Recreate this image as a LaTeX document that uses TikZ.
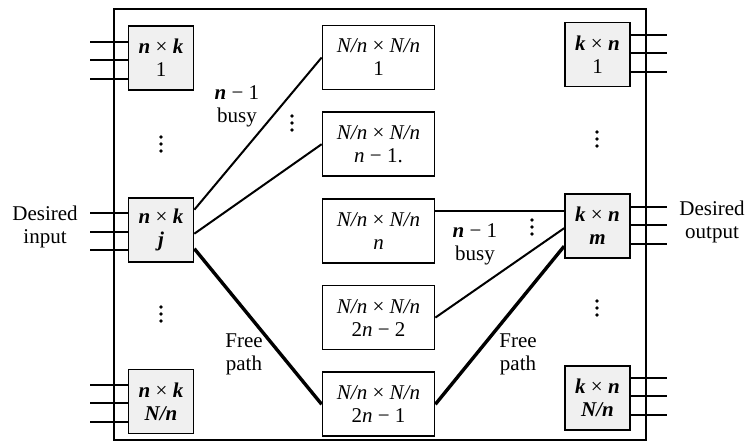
\documentclass[tikz,border=0pt]{standalone}
\usepackage{fontspec}
\setmainfont{Liberation Serif}
\usetikzlibrary{positioning}
\tikzset{
  swbox/.style={rectangle,draw,line width=0.85pt,fill=gray!12,align=center,inner sep=1pt,minimum width=32.5pt,minimum height=32pt},
  midbox/.style={rectangle,draw,line width=0.85pt,fill=white,align=center,inner sep=1pt,minimum width=56pt,minimum height=32pt},
  wire/.style={line width=1pt},
  busy/.style={line width=1pt},
  free/.style={line width=1.7pt},
  frame/.style={line width=0.7pt},
  lbl/.style={align=center,inner sep=0pt}
}
\newcommand{\bi}[1]{\textbf{\textit{#1}}}

\begin{document}
\begin{tikzpicture}[x=0.5pt,y=-0.5pt,font=\fontsize{10.5}{11.5}\selectfont,node distance=10.5pt]
\useasboundingbox (0,0) rectangle (750,445);
\draw[frame] (114,9) rectangle (646,440);
% input stage
\node[swbox] (l1) at (161,58) {\bi{n} × \bi{k}\\1};
\node[swbox, below=53pt of l1] (lj) {\bi{n} × \bi{k}\\\bi{j}};
\node[swbox, below=53pt of lj] (ln) {\bi{n} × \bi{k}\\\bi{N/n}};
% middle stage
\node[midbox] (m1) at (378.5,57.5) {\textit{N/n} × \textit{N/n}\\1};
\node[midbox, below=of m1] (m2) {\textit{N/n} × \textit{N/n}\\\textit{n} − 1.};
\node[midbox, below=of m2] (m3) {\textit{N/n} × \textit{N/n}\\\textit{n}};
\node[midbox, below=of m3] (m4) {\textit{N/n} × \textit{N/n}\\2\textit{n} − 2};
\node[midbox, below=of m4] (m5) {\textit{N/n} × \textit{N/n}\\2\textit{n} − 1};
% output stage
\node[swbox] (r1) at (597.5,54.5) {\bi{k} × \bi{n}\\1};
\node[swbox, below=53pt of r1] (rm) {\bi{k} × \bi{n}\\\bi{m}};
\node[swbox, below=53pt of rm] (rn) {\bi{k} × \bi{n}\\\bi{N/n}};
% outside lines
\foreach \b in {l1,lj,ln}
  \foreach \d in {8.25pt,-1pt,-10.25pt}
    \draw[wire] ([yshift=\d]\b.west) -- ++(-38,0);
\foreach \b in {r1,rm,rn}
  \foreach \d in {9.75pt,0.75pt,-8.75pt}
    \draw[wire] ([yshift=\d]\b.east) -- ++(36,0);
% paths
\draw[busy] ([yshift=10pt]lj.east) -- (m1.west);
\draw[busy] ([yshift=-2pt]lj.east) -- (m2.west);
\draw[free] ([yshift=-9.5pt]lj.east) -- (m5.west);
\draw[busy] ([yshift=10pt]m3.east) -- ([yshift=10pt]m3.east -| rm.west);
\draw[busy] (m4.east) -- ([yshift=-1pt]rm.west);
\draw[free] (m5.east) -- ([yshift=-10pt]rm.west);
% labels
\node[lbl] (lbusy) at (237,106) {\bi{n} − 1\\busy};
\node[lbl] (lfree) at (244,354) {Free\\path};
\node[lbl] (rbusy) at (475,244) {\bi{n} − 1\\busy};
\node[lbl] (rfree) at (518,354) {Free\\path};
\node[lbl] (din) at (45,227) {Desired\\input};
\node[lbl] (dout) at (712,222) {Desired\\output};
% vertical dots
\foreach \x/\y in {292/123, 532/227, 161/144, 161/314, 597/139, 597/308}
  \foreach \k in {-7,0,7}
    \fill (\x,\y+\k) circle (1.9);
\end{tikzpicture}
\end{document}
